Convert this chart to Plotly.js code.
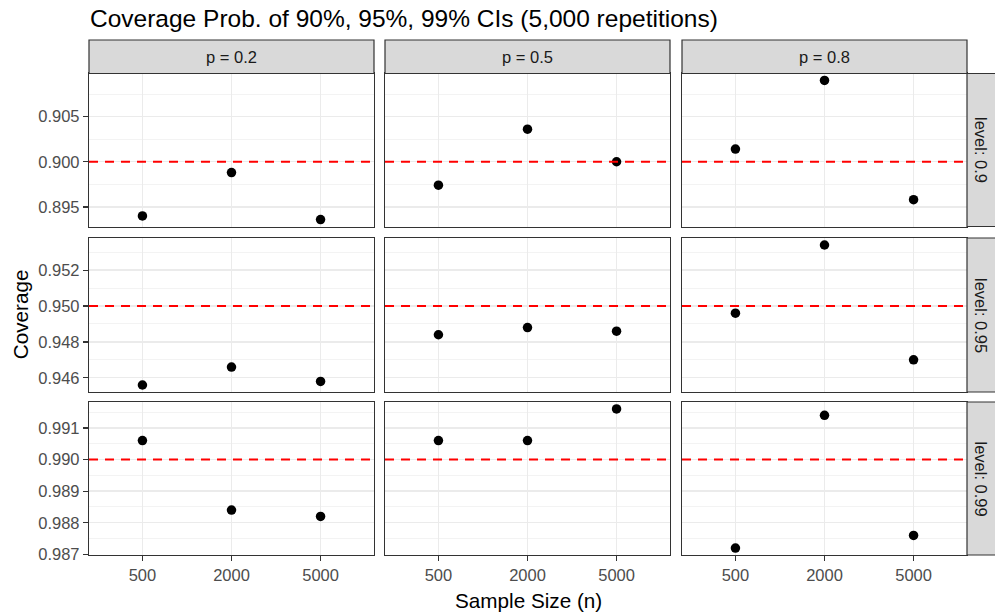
<!DOCTYPE html>
<html>
<head>
<meta charset="utf-8">
<script src="https://cdn.plot.ly/plotly-3.0.1.min.js"></script>
<style>html,body{margin:0;padding:0;background:#fff;}#chart{width:995px;height:613px;}</style>
</head>
<body>
<div id="chart"></div>
<script>
// ---------- data ----------
const sampleSizes = ['500', '2000', '5000'];
const pLabels = ['p = 0.2', 'p = 0.5', 'p = 0.8'];
const levelLabels = ['level: 0.9', 'level: 0.95', 'level: 0.99'];
const levels = [0.90, 0.95, 0.99];

// coverage by level (rows) and p (columns), values for n = 500, 2000, 5000
const cov90_p02 = [0.8940, 0.8988, 0.8936];
const cov90_p05 = [0.8974, 0.9036, 0.9000];
const cov90_p08 = [0.9014, 0.9090, 0.8958];
const cov95_p02 = [0.9456, 0.9466, 0.9458];
const cov95_p05 = [0.9484, 0.9488, 0.9486];
const cov95_p08 = [0.9496, 0.9534, 0.9470];
const cov99_p02 = [0.9906, 0.9884, 0.9882];
const cov99_p05 = [0.9906, 0.9906, 0.9916];
const cov99_p08 = [0.9872, 0.9914, 0.9876];

const yTickStep = [0.005, 0.002, 0.001];
const yTick0 = [0.895, 0.946, 0.987];

const titleText = 'Coverage Prob. of 90%, 95%, 99% CIs (5,000 repetitions)';
const xTitle = 'Sample Size (n)';
const yTitle = 'Coverage';

// ---------- layout geometry (pixels) ----------
const W = 995, H = 613;
const colPx = [[89, 374], [385, 670], [682, 967]];
const rowPx = [[73.5, 226.5], [238, 392], [402, 555]];
const stripTop = [40, 73.5];
const stripRight = [967, 995];

const grid = [
  [cov90_p02, cov90_p05, cov90_p08],
  [cov95_p02, cov95_p05, cov95_p08],
  [cov99_p02, cov99_p05, cov99_p08]
];

const FONT = 'Liberation Sans, Arial, sans-serif';
const px = v => v / W;
const py = v => 1 - v / H;

const traces = [];
const layout = {
  width: W, height: H,
  margin: {l: 0, r: 0, t: 0, b: 0},
  paper_bgcolor: '#FFFFFF', plot_bgcolor: '#FFFFFF',
  showlegend: false,
  font: {family: FONT, color: '#4D4D4D', size: 16.5},
  shapes: [], annotations: []
};

for (let r = 0; r < 3; r++) {
  // row range: data + reference level, expanded by 5%
  const vals = grid[r][0].concat(grid[r][1], grid[r][2], [levels[r]]);
  const mn = Math.min(...vals), mx = Math.max(...vals);
  const pad = (mx - mn) * 0.05;
  const yr = [mn - pad, mx + pad];
  for (let c = 0; c < 3; c++) {
    const k = r * 3 + c + 1;
    const xn = k === 1 ? 'xaxis' : 'xaxis' + k;
    const yn = k === 1 ? 'yaxis' : 'yaxis' + k;
    const xr = k === 1 ? 'x' : 'x' + k;
    const yrf = k === 1 ? 'y' : 'y' + k;
    layout[xn] = {
      domain: [px(colPx[c][0]), px(colPx[c][1])],
      anchor: yrf,
      type: 'category',
      categoryorder: 'array', categoryarray: sampleSizes,
      range: [-0.6, 2.6],
      showgrid: true, gridcolor: '#EBEBEB', gridwidth: 1.3,
      zeroline: false,
      showline: true, mirror: true, linecolor: '#333333', linewidth: 1.2,
      ticks: r === 2 ? 'outside' : '', ticklen: 5, tickwidth: 1.2, tickcolor: '#333333',
      showticklabels: r === 2,
      tickfont: {family: FONT, size: 16.5, color: '#4D4D4D'},
      fixedrange: true
    };
    layout[yn] = {
      domain: [py(rowPx[r][1]), py(rowPx[r][0])],
      anchor: xr,
      range: yr,
      tick0: yTick0[r], dtick: yTickStep[r], tickformat: '.3f',
      showgrid: true, gridcolor: '#EBEBEB', gridwidth: 1.3,
      minor: {dtick: yTickStep[r] / 2, tick0: yTick0[r], showgrid: true, gridcolor: '#F0F0F0', gridwidth: 0.8, ticks: ''},
      zeroline: false,
      showline: true, mirror: true, linecolor: '#333333', linewidth: 1.2,
      ticks: c === 0 ? 'outside' : '', ticklen: 5, tickwidth: 1.2, tickcolor: '#333333',
      showticklabels: c === 0,
      tickfont: {family: FONT, size: 16.5, color: '#4D4D4D'},
      fixedrange: true
    };
    // reference line
    layout.shapes.push({
      type: 'line', xref: xr + ' domain', yref: yrf,
      x0: 0, x1: 1, y0: levels[r], y1: levels[r],
      line: {color: '#FF0000', width: 2, dash: '9px,7px'}
    });
    traces.push({
      type: 'scatter', mode: 'markers',
      x: sampleSizes, y: grid[r][c],
      xaxis: xr, yaxis: yrf,
      marker: {color: '#000000', size: 9.5},
      hoverinfo: 'x+y'
    });
  }
}

// top strips
for (let c = 0; c < 3; c++) {
  layout.shapes.push({
    type: 'rect', xref: 'paper', yref: 'paper',
    x0: px(colPx[c][0]), x1: px(colPx[c][1]),
    y0: py(stripTop[1]), y1: py(stripTop[0]),
    fillcolor: '#D9D9D9', line: {color: '#333333', width: 1.2}
  });
  layout.annotations.push({
    xref: 'paper', yref: 'paper',
    x: px((colPx[c][0] + colPx[c][1]) / 2), y: py((stripTop[0] + stripTop[1]) / 2),
    xanchor: 'center', yanchor: 'middle', showarrow: false,
    text: pLabels[c], font: {family: FONT, size: 16.5, color: '#1A1A1A'}
  });
}
// right strips
for (let r = 0; r < 3; r++) {
  layout.shapes.push({
    type: 'rect', xref: 'paper', yref: 'paper',
    x0: px(stripRight[0]), x1: px(stripRight[1] + 2),
    y0: py(rowPx[r][1]), y1: py(rowPx[r][0]),
    fillcolor: '#D9D9D9', line: {color: '#333333', width: 1.2}
  });
  layout.annotations.push({
    xref: 'paper', yref: 'paper',
    x: px((stripRight[0] + stripRight[1]) / 2), y: py((rowPx[r][0] + rowPx[r][1]) / 2),
    xanchor: 'center', yanchor: 'middle', showarrow: false, textangle: 90,
    text: levelLabels[r], font: {family: FONT, size: 16.5, color: '#1A1A1A'}
  });
}

// titles
layout.annotations.push({
  xref: 'paper', yref: 'paper', x: px(88), y: py(19),
  xanchor: 'left', yanchor: 'middle', showarrow: false,
  text: titleText, font: {family: FONT, size: 24.5, color: '#000000'}
});
layout.annotations.push({
  xref: 'paper', yref: 'paper', x: px((colPx[0][0] + colPx[2][1]) / 2), y: py(600),
  xanchor: 'center', yanchor: 'middle', showarrow: false,
  text: xTitle, font: {family: FONT, size: 20.7, color: '#000000'}
});
layout.annotations.push({
  xref: 'paper', yref: 'paper', x: px(20), y: py((rowPx[0][0] + rowPx[2][1]) / 2),
  xanchor: 'center', yanchor: 'middle', showarrow: false, textangle: -90,
  text: yTitle, font: {family: FONT, size: 20.7, color: '#000000'}
});

Plotly.newPlot('chart', traces, layout, {displayModeBar: false, staticPlot: true});
</script>
</body>
</html>
